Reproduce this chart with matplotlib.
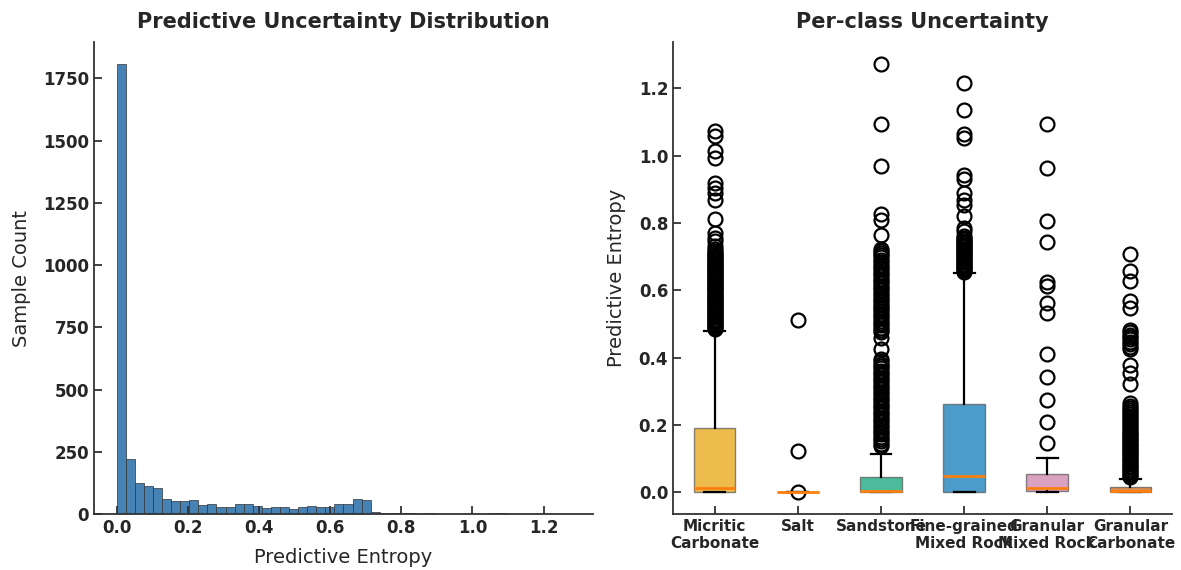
import numpy as np
import matplotlib

matplotlib.use("Agg")
import matplotlib.pyplot as plt

plt.rcParams["font.family"] = ["DejaVu Sans"]

# ---------- histogram data (50 bins from 0 to max entropy) ----------
entropy_max = 1.275
hist_counts = [1806, 220, 123, 113, 103, 62, 51, 51, 55, 36,
               40, 27, 28, 40, 40, 31, 23, 27, 27, 19,
               27, 31, 28, 28, 40, 40, 62, 55, 8, 4,
               3, 4, 3, 2, 3, 2, 2, 1, 2, 1,
               0, 3, 3, 0, 1, 0, 0, 1, 0, 1]

# ---------- per-class box stats ----------
classes = ["Micritic\nCarbonate", "Salt", "Sandstone",
           "Fine-grained\nMixed Rock", "Granular\nMixed Rock", "Granular\nCarbonate"]
box_colors = ["#E69F00", "#56B4E9", "#009E73", "#0072B2", "#CC79A7", "#D55E00"]
q1 = [0.0, 0.0, 0.0, 0.0, 0.004, 0.0]
med = [0.014, 0.0, 0.003, 0.048, 0.014, 0.003]
q3 = [0.192, 0.0, 0.046, 0.263, 0.056, 0.017]
whis_lo = [0.0, 0.0, 0.0, 0.0, 0.0, 0.0]
whis_hi = [0.479, 0.0, 0.114, 0.653, 0.101, 0.041]

# outliers (dense stacks read as closely packed values)
fliers_micritic = [1.073, 1.058, 1.014, 0.994, 0.920, 0.905, 0.890, 0.870, 0.811,
                   0.771, 0.756, 0.746, 0.731,
                   0.722, 0.717, 0.712, 0.707, 0.703, 0.699, 0.695, 0.691, 0.687,
                   0.683, 0.680, 0.676, 0.672, 0.668, 0.664, 0.661, 0.657, 0.653,
                   0.649, 0.645, 0.642, 0.638, 0.634, 0.630, 0.626, 0.623, 0.619,
                   0.615, 0.611, 0.607, 0.604, 0.600, 0.596, 0.592, 0.588, 0.585,
                   0.581, 0.577, 0.573, 0.569, 0.566, 0.562, 0.558, 0.554, 0.550,
                   0.547, 0.543, 0.539, 0.535, 0.531, 0.528, 0.524, 0.520, 0.516,
                   0.512, 0.509, 0.505, 0.501, 0.497, 0.494, 0.490, 0.486]
fliers_salt = [0.0, 0.123, 0.512]
fliers_sandstone = [1.274, 1.093, 0.969, 0.826, 0.809, 0.766,
                    0.722, 0.718, 0.712, 0.705, 0.698, 0.691, 0.684, 0.677, 0.670,
                    0.663, 0.656, 0.649, 0.642, 0.635, 0.628, 0.621, 0.614, 0.607,
                    0.600, 0.593, 0.586, 0.579, 0.572, 0.565, 0.558, 0.551, 0.545,
                    0.538, 0.531, 0.524, 0.517, 0.510, 0.503, 0.497, 0.490, 0.483,
                    0.476, 0.459, 0.425,
                    0.395, 0.390, 0.383, 0.376, 0.369, 0.362, 0.355, 0.348, 0.341,
                    0.334, 0.327, 0.320, 0.313, 0.306, 0.299, 0.292, 0.285, 0.278,
                    0.271, 0.264, 0.257, 0.250, 0.243, 0.236, 0.229, 0.222, 0.215,
                    0.208, 0.201, 0.194, 0.187, 0.180, 0.173, 0.166, 0.159, 0.152,
                    0.145, 0.138]
fliers_fine = [1.215, 1.135, 1.066, 1.052, 0.944, 0.930, 0.890, 0.870, 0.855,
               0.820, 0.786, 0.776,
               0.761, 0.756, 0.752, 0.748, 0.744, 0.740, 0.736, 0.732, 0.728,
               0.724, 0.720, 0.716, 0.712, 0.708, 0.704, 0.700, 0.696, 0.692,
               0.688, 0.684, 0.680, 0.676, 0.672, 0.668, 0.664, 0.660, 0.656]
fliers_granular_mixed = [1.093, 0.965, 0.806, 0.745, 0.626, 0.613, 0.562, 0.532,
                         0.412, 0.342, 0.276, 0.209, 0.146]
fliers_granular_carb = [0.707, 0.657, 0.628, 0.568, 0.548, 0.484, 0.476, 0.469,
                        0.462, 0.455, 0.447, 0.440, 0.432, 0.425, 0.380, 0.355,
                        0.321,
                        0.266, 0.258, 0.252, 0.246, 0.240, 0.234, 0.228, 0.222,
                        0.216, 0.210, 0.204, 0.198, 0.192, 0.186, 0.180, 0.175,
                        0.170, 0.165, 0.160, 0.155, 0.150, 0.145, 0.140, 0.135,
                        0.130, 0.125, 0.120, 0.115, 0.110, 0.105, 0.100, 0.095,
                        0.090, 0.085, 0.080, 0.075, 0.070, 0.065, 0.060, 0.055,
                        0.050, 0.046]
fliers = [fliers_micritic, fliers_salt, fliers_sandstone, fliers_fine,
          fliers_granular_mixed, fliers_granular_carb]

TXT = "#262626"


def style_axes(ax, xsize=12, ysize=12):
    for side in ("top", "right"):
        ax.spines[side].set_visible(False)
    for side in ("left", "bottom"):
        ax.spines[side].set_color("#333333")
        ax.spines[side].set_linewidth(1.3)
    ax.tick_params(direction="in", length=6, width=1.3, color="#333333",
                   labelcolor=TXT)
    ax.tick_params(axis="x", labelsize=xsize)
    ax.tick_params(axis="y", labelsize=ysize)
    for lab in ax.get_xticklabels() + ax.get_yticklabels():
        lab.set_fontweight("bold")


fig = plt.figure(figsize=(11.81, 5.70), dpi=100)
ax1 = fig.add_axes([0.0796, 0.0982, 0.4225, 0.8281])
ax2 = fig.add_axes([0.5699, 0.0982, 0.4225, 0.8281])

# ---------- left: histogram ----------
edges = np.linspace(0, entropy_max, len(hist_counts) + 1)
ax1.hist(edges[:-1], bins=edges, weights=hist_counts, color="#4682B4",
         edgecolor="#333333", linewidth=0.5)
ax1.set_title("Predictive Uncertainty Distribution", fontsize=15,
              fontweight="bold", color=TXT, pad=10)
ax1.set_xlabel("Predictive Entropy", fontsize=14, color=TXT, labelpad=8)
ax1.set_ylabel("Sample Count", fontsize=14, color=TXT, labelpad=9)
ax1.set_xticks([0.0, 0.2, 0.4, 0.6, 0.8, 1.0, 1.2])
ax1.set_yticks([0, 250, 500, 750, 1000, 1250, 1500, 1750])
style_axes(ax1)

# ---------- right: boxplot ----------
stats = []
for i, name in enumerate(classes):
    stats.append(dict(label=name, q1=q1[i], med=med[i], q3=q3[i],
                      whislo=whis_lo[i], whishi=whis_hi[i], fliers=fliers[i]))

bp = ax2.bxp(stats, widths=0.5, patch_artist=True,
             medianprops=dict(color="#FF7F0E", linewidth=2),
             whiskerprops=dict(color="black", linewidth=1.6),
             capprops=dict(color="black", linewidth=1.6),
             flierprops=dict(marker="o", markersize=10, markerfacecolor="none",
                             markeredgecolor="black", markeredgewidth=1.6))
for patch, c in zip(bp["boxes"], box_colors):
    patch.set_facecolor(c)
    patch.set_alpha(0.7)
    patch.set_edgecolor("#555555")
    patch.set_linewidth(1.0)

ax2.set_title("Per-class Uncertainty", fontsize=15, fontweight="bold",
              color=TXT, pad=10)
ax2.set_ylabel("Predictive Entropy", fontsize=14, color=TXT, labelpad=9)
ax2.set_yticks([0.0, 0.2, 0.4, 0.6, 0.8, 1.0, 1.2])
ax2.set_ylim(-0.064, 1.338)
style_axes(ax2, xsize=11)

fig.savefig("out.png", dpi=100, facecolor="white")
